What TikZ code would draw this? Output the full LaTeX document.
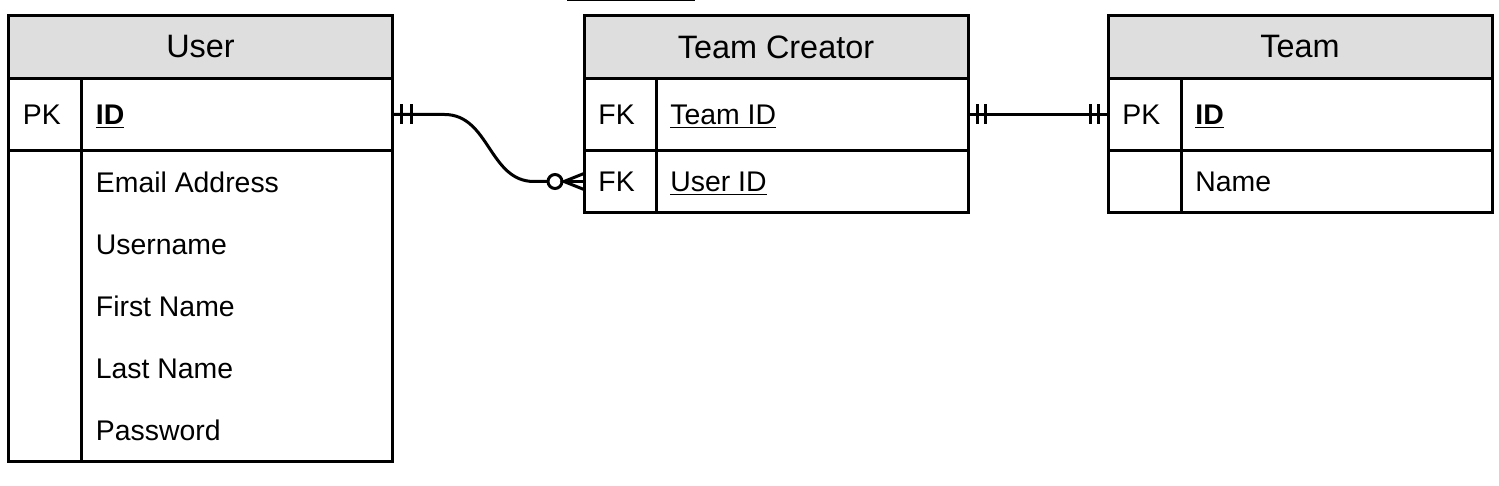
\documentclass[tikz,border=0pt]{standalone}
\usepackage{fontspec}
\setmainfont{Liberation Sans}
\usetikzlibrary{positioning, calc}
\definecolor{hdrgray}{RGB}{222,222,222}
\tikzset{
  hdr/.style={draw, fill=hdrgray, line width=1.5pt, anchor=north west,
    minimum width=192pt, minimum height=31.5pt, inner sep=0pt, outer sep=0pt,
    font=\fontsize{16.2}{19}\selectfont},
  cell/.style={draw, line width=1.5pt, anchor=north, minimum width=192pt,
    inner sep=0pt, outer sep=0pt},
  txt/.style={anchor=west, inner sep=0pt, text height=10.2pt, text depth=0pt,
    font=\fontsize{14.2}{17}\selectfont},
  rel/.style={line width=1.5pt},
}

\begin{document}
\begin{tikzpicture}[x=0.5pt, y=-0.5pt]
\useasboundingbox (0,0) rectangle (1499,486);

% cut-off edge at the top
\draw[line width=1pt] (567,0.5) -- (695,0.5);

% User
\node[hdr] (user) at (8.5,15.5) {User};
\node[cell, minimum height=36pt] (user-pk) at (user.south) {};
\node[cell, minimum height=155.5pt] (user-attr) at (user-pk.south) {};
\draw[rel] ([xshift=36.5pt]user-pk.north west) -- ([xshift=36.5pt]user-attr.south west);
\node[txt] (user-key) at ($(user-pk.west)+(14,0)$) {PK};
\node[txt] (user-id) at ($(user-pk.west)+(87,0)$) {\textbf{\underline{ID}}};
\foreach \attr [count=\i from 0] in {Email Address, Username, First Name, Last Name, Password}
  \node[txt] (user-a\i) at ($(user-attr.north west)+(87,32+62*\i)$) {\attr};

% Team Creator
\node[hdr] (creator) at (584,15.5) {Team Creator};
\node[cell, minimum height=36pt] (creator-team) at (creator.south) {};
\node[cell, minimum height=31pt] (creator-user) at (creator-team.south) {};
\draw[rel] ([xshift=36pt]creator-team.north west) -- ([xshift=36pt]creator-user.south west);
\node[txt] (creator-key1) at ($(creator-team.west)+(14,0)$) {FK};
\node[txt] (creator-tid) at ($(creator-team.west)+(86,0)$) {\underline{Team ID}};
\node[txt] (creator-key2) at ($(creator-user.west)+(14,0)$) {FK};
\node[txt] (creator-uid) at ($(creator-user.west)+(86,0)$) {\underline{User ID}};

% Team
\node[hdr] (team) at (1108,15.5) {Team};
\node[cell, minimum height=36pt] (team-pk) at (team.south) {};
\node[cell, minimum height=31pt] (team-attr) at (team-pk.south) {};
\draw[rel] ([xshift=36.5pt]team-pk.north west) -- ([xshift=36.5pt]team-attr.south west);
\node[txt] (team-key) at ($(team-pk.west)+(14,0)$) {PK};
\node[txt] (team-id) at ($(team-pk.west)+(87,0)$) {\textbf{\underline{ID}}};
\node[txt] (team-name) at ($(team-attr.west)+(87,0)$) {Name};

% User -- Team Creator (one to zero or many)
\draw[rel] (user-pk.east) -- ++(52,0)
  .. controls +(45,0) and +(-45,0) .. ($(creator-user.west)+(-50,0)$)
  -- ($(creator-user.west)+(-36,0)$);
\foreach \d in {9,19}
  \draw[rel] ($(user-pk.east)+(\d,-10)$) -- ++(0,20);
\draw[rel] ($(creator-user.west)+(-29,0)$) circle[radius=3.5pt];
\draw[rel] ($(creator-user.west)+(0,-8)$) -- ($(creator-user.west)+(-20,0)$)
  -- ($(creator-user.west)+(0,8)$);
\draw[rel] ($(creator-user.west)+(-22,0)$) -- (creator-user.west);

% Team Creator -- Team (one to one)
\draw[rel] (creator-team.east) -- (team-pk.west);
\foreach \d in {9,17}
  \draw[rel] ($(creator-team.east)+(\d,-10)$) -- ++(0,20);
\foreach \d in {10,18}
  \draw[rel] ($(team-pk.west)+(-\d,-10)$) -- ++(0,20);

\end{tikzpicture}
\end{document}
